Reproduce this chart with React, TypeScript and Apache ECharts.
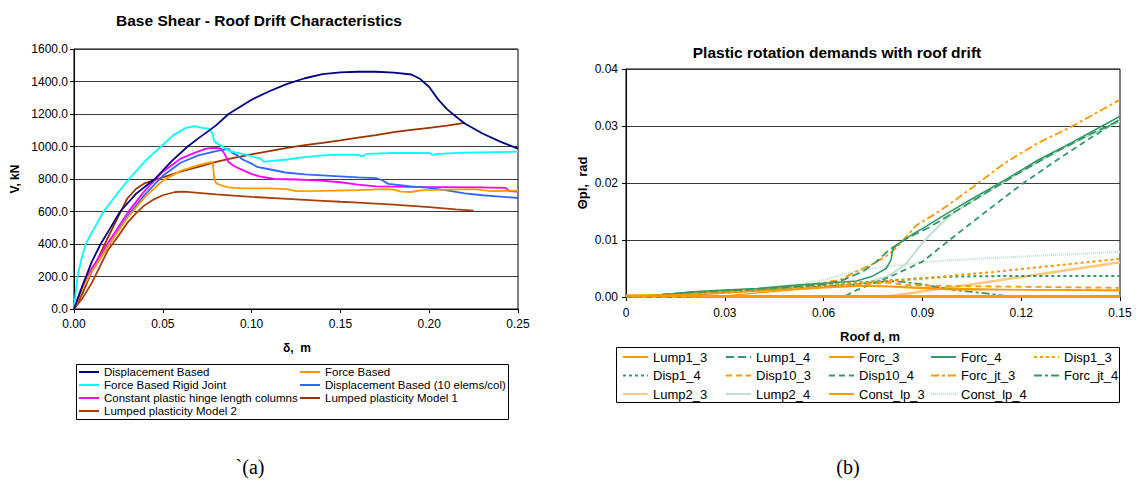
import React, { useEffect, useRef } from "react";
import * as echarts from "echarts";

const FONT = '"Liberation Sans", Arial, sans-serif';

// ---------- Chart (a): Base shear - roof drift ----------
const xTicksA = [0, 0.05, 0.1, 0.15, 0.2, 0.25];
const dispBased: [number, number][] = [
  [0, 0], [0.005, 150], [0.01, 290], [0.015, 400], [0.02, 490], [0.026, 600], [0.035, 710],
  [0.0455, 800], [0.055, 910], [0.064, 1000], [0.07, 1050], [0.08, 1130], [0.087, 1200],
  [0.1, 1288], [0.11, 1340], [0.12, 1385], [0.13, 1420], [0.14, 1445], [0.15, 1456],
  [0.16, 1460], [0.17, 1460], [0.18, 1455], [0.19, 1443], [0.195, 1415], [0.2, 1366],
  [0.205, 1290], [0.21, 1230], [0.215, 1185], [0.22, 1142], [0.23, 1080], [0.24, 1030], [0.25, 987],
];
const forceBased: [number, number][] = [
  [0, 0], [0.005, 130], [0.01, 230], [0.02, 400], [0.03, 560], [0.04, 690], [0.05, 790],
  [0.06, 850], [0.07, 885], [0.078, 905], [0.0785, 860], [0.079, 800], [0.08, 775],
  [0.083, 760], [0.087, 748], [0.095, 742], [0.11, 742], [0.12, 738], [0.125, 725],
  [0.14, 727], [0.16, 732], [0.175, 738], [0.18, 735], [0.184, 722], [0.19, 720],
  [0.195, 730], [0.21, 735], [0.225, 738], [0.235, 725], [0.25, 728],
];
const forceRigid: [number, number][] = [
  [0, 0], [0.001, 110], [0.002, 200], [0.004, 300], [0.0066, 400], [0.01, 470], [0.0167, 600],
  [0.024, 705], [0.031, 800], [0.04, 910], [0.049, 1000], [0.056, 1070], [0.063, 1115],
  [0.068, 1125], [0.072, 1115], [0.076, 1110], [0.078, 1080], [0.079, 1030], [0.082, 1010],
  [0.088, 970], [0.095, 955], [0.1, 940], [0.105, 925], [0.107, 905], [0.11, 910], [0.12, 920],
  [0.13, 935], [0.14, 945], [0.15, 950], [0.16, 948], [0.162, 940], [0.165, 955], [0.18, 960],
  [0.2, 960], [0.202, 948], [0.205, 955], [0.22, 962], [0.25, 968],
];
const disp10: [number, number][] = [
  [0, 0], [0.005, 130], [0.01, 230], [0.02, 400], [0.03, 570], [0.04, 705], [0.05, 820],
  [0.06, 900], [0.07, 945], [0.08, 972], [0.087, 985], [0.089, 960], [0.092, 945],
  [0.095, 920], [0.1, 895], [0.103, 875], [0.11, 860], [0.119, 840], [0.13, 828],
  [0.147, 818], [0.16, 810], [0.17, 805], [0.173, 795], [0.177, 770], [0.19, 755],
  [0.2, 745], [0.21, 730], [0.22, 712], [0.23, 700], [0.24, 692], [0.25, 683],
];
const constLp: [number, number][] = [
  [0, 0], [0.005, 150], [0.01, 250], [0.02, 420], [0.03, 590], [0.04, 730], [0.05, 845],
  [0.06, 925], [0.07, 970], [0.075, 988], [0.08, 992], [0.083, 985], [0.085, 950],
  [0.087, 905], [0.09, 880], [0.095, 855], [0.1, 830], [0.105, 815], [0.113, 800],
  [0.125, 797], [0.139, 790], [0.15, 780], [0.16, 765], [0.17, 755], [0.19, 752],
  [0.21, 750], [0.23, 748], [0.243, 745], [0.245, 725], [0.25, 722],
];
const lumped1: [number, number][] = [
  [0, 0], [0.005, 100], [0.01, 230], [0.02, 460], [0.025, 570], [0.03, 680], [0.035, 740],
  [0.04, 775], [0.05, 810], [0.06, 845], [0.07, 875], [0.08, 905], [0.09, 930], [0.1, 952],
  [0.11, 972], [0.12, 992], [0.13, 1008], [0.14, 1022], [0.15, 1038], [0.16, 1055],
  [0.17, 1070], [0.18, 1088], [0.19, 1102], [0.2, 1115], [0.21, 1128], [0.22, 1145],
];
const lumped2: [number, number][] = [
  [0, 0], [0.005, 70], [0.01, 160], [0.019, 360], [0.025, 450], [0.03, 530], [0.035, 590],
  [0.039, 632], [0.045, 675], [0.05, 700], [0.057, 720], [0.062, 722], [0.07, 715],
  [0.08, 706], [0.09, 698], [0.1, 690], [0.12, 678], [0.14, 666], [0.15, 660], [0.16, 655],
  [0.18, 642], [0.2, 627], [0.215, 613], [0.225, 605],
];

// ---------- Chart (b): plastic rotation demands ----------
const lump1_3: [number, number][] = [
  [0, 0.0002], [0.012, 0.0002], [0.03, 0.0001], [0.06, 0.0001], [0.1, 0.0001], [0.15, 0.0001],
];
const lump1_4: [number, number][] = [
  [0, 0], [0.02, 0.0008], [0.04, 0.0014], [0.06, 0.0022], [0.066, 0.003], [0.072, 0.0045],
  [0.076, 0.0062], [0.08, 0.0083], [0.085, 0.0102], [0.092, 0.0122], [0.1, 0.015],
  [0.11, 0.0185], [0.12, 0.022], [0.13, 0.0253], [0.14, 0.0283], [0.15, 0.031],
];
const forc_3: [number, number][] = [
  [0, 0], [0.02, 0.0004], [0.04, 0.001], [0.06, 0.0017], [0.07, 0.002], [0.08, 0.0018],
  [0.09, 0.0015], [0.1, 0.0013], [0.15, 0.0012],
];
const forc_4: [number, number][] = [
  [0, 0], [0.01, 0.0003], [0.02, 0.0009], [0.03, 0.0012], [0.04, 0.0015], [0.05, 0.002],
  [0.06, 0.0024], [0.07, 0.0028], [0.075, 0.0037], [0.079, 0.005], [0.0805, 0.0065],
  [0.081, 0.0085], [0.083, 0.0095], [0.087, 0.011], [0.09, 0.012], [0.097, 0.0145],
  [0.105, 0.0172], [0.115, 0.0205], [0.125, 0.024], [0.135, 0.027], [0.15, 0.0317],
];
const disp1_3: [number, number][] = [
  [0, 0], [0.03, 0.001], [0.05, 0.0018], [0.07, 0.0025], [0.08, 0.0028], [0.09, 0.0032],
  [0.1, 0.0038], [0.11, 0.0043], [0.12, 0.0049], [0.13, 0.0055], [0.14, 0.0061], [0.15, 0.0067],
];
const disp1_4: [number, number][] = [
  [0, 0], [0.03, 0.0008], [0.05, 0.0017], [0.07, 0.0025], [0.08, 0.0029], [0.09, 0.0033],
  [0.1, 0.0036], [0.12, 0.0037], [0.15, 0.0037],
];
const disp10_3: [number, number][] = [
  [0, 0], [0.03, 0.0008], [0.05, 0.0015], [0.07, 0.0022], [0.08, 0.0025], [0.085, 0.0021],
  [0.1, 0.0019], [0.12, 0.0018], [0.15, 0.0016],
];
const disp10_4: [number, number][] = [
  [0, 0], [0.066, 0], [0.07, 0.0012], [0.08, 0.0035], [0.09, 0.0062], [0.095, 0.0085],
  [0.1, 0.0108], [0.11, 0.0153], [0.12, 0.0197], [0.13, 0.0237], [0.14, 0.0275], [0.15, 0.0312],
];
const forcJt_3: [number, number][] = [
  [0, 0], [0.02, 0.0006], [0.04, 0.0013], [0.06, 0.0025], [0.065, 0.003], [0.07, 0.0045],
  [0.075, 0.0058], [0.08, 0.0075], [0.084, 0.0098], [0.088, 0.0125], [0.095, 0.015],
  [0.1, 0.017], [0.107, 0.02], [0.115, 0.0235], [0.125, 0.027], [0.135, 0.0298], [0.15, 0.0346],
];
const forcJt_4: [number, number][] = [
  [0, 0], [0.03, 0.0008], [0.05, 0.0015], [0.07, 0.0022], [0.08, 0.0028], [0.085, 0.0026],
  [0.09, 0.0022], [0.1, 0.0012], [0.11, 0.0006], [0.115, 0.0002], [0.15, 0.0001],
];
const lump2_3: [number, number][] = [
  [0, 0], [0.078, 0], [0.1, 0.0018], [0.12, 0.0035], [0.15, 0.0061],
];
const lump2_4: [number, number][] = [
  [0, 0], [0.04, 0.0012], [0.06, 0.002], [0.07, 0.0022], [0.075, 0.0028], [0.08, 0.0038],
  [0.085, 0.0058], [0.09, 0.0095], [0.095, 0.0125], [0.1, 0.015], [0.11, 0.0185],
  [0.12, 0.022], [0.13, 0.0252], [0.14, 0.0282], [0.15, 0.0308],
];
const constLp_3: [number, number][] = [
  [0, 0], [0.03, 0.0002], [0.05, 0.0012], [0.06, 0.0016], [0.075, 0.002], [0.08, 0.0019],
  [0.09, 0.0017], [0.1, 0.0015], [0.12, 0.0013], [0.15, 0.0011],
];
const constLp_4: [number, number][] = [
  [0, 0], [0.007, 0], [0.02, 0.0004], [0.03, 0.0008], [0.04, 0.0013], [0.05, 0.002],
  [0.06, 0.003], [0.07, 0.0045], [0.075, 0.005], [0.08, 0.0054], [0.09, 0.0061],
  [0.1, 0.0065], [0.12, 0.0071], [0.15, 0.0079],
];

const ORANGE = "#FF9900";
const GREEN = "#339966";
const LORANGE = "#FFC87A";
const LGREEN = "#BFE0CC";

function lineA(name: string, data: [number, number][], color: string) {
  return {
    type: "line", name, data, xAxisIndex: 0, yAxisIndex: 0, symbol: "none", showSymbol: false,
    lineStyle: { color, width: 1.8 }, itemStyle: { color },
  };
}
function lineB(name: string, data: [number, number][], color: string, width: number, type: any) {
  return {
    type: "line", name, data, xAxisIndex: 1, yAxisIndex: 1, symbol: "none", showSymbol: false,
    lineStyle: { color, width, type }, itemStyle: { color },
  };
}

const axisCommon = {
  axisLine: { show: true, lineStyle: { color: "#000", width: 1 } },
  axisTick: { show: true, inside: false, length: 4, lineStyle: { color: "#000" } },
  splitLine: { show: false },
  axisLabel: { color: "#000", fontSize: 12, fontFamily: FONT },
};

export default function App() {
  const ref = useRef<HTMLDivElement>(null);
  useEffect(() => {
    const chart = echarts.init(ref.current!, null, { renderer: "svg" });
    const legendText = (size: number, lh: number) => ({ fontSize: size, fontFamily: FONT, color: "#000", lineHeight: lh });
    const legA = (left: number, data: string[]) => ({
      orient: "vertical", left, top: 365.5, padding: 0, itemGap: 0, itemWidth: 20, itemHeight: 10,
      selectedMode: false, data, textStyle: legendText(11.5, 13), itemStyle: { opacity: 0 },
    });
    const legB = (left: number, data: string[]) => ({
      orient: "vertical", left, top: 349.5, padding: 0, itemGap: 3.5, itemWidth: 25, itemHeight: 12,
      selectedMode: false, data, textStyle: legendText(13, 15), itemStyle: { opacity: 0 },
    });
    chart.setOption({
      animation: false,
      backgroundColor: "#fff",
      title: [
        { text: "Base Shear - Roof Drift Characteristics", left: 254, top: 7, textAlign: "center",
          textStyle: { fontSize: 15.5, fontWeight: "bold", fontFamily: FONT, color: "#000" } },
        { text: "Plastic rotation demands with roof drift", left: 832, top: 39, textAlign: "center",
          textStyle: { fontSize: 15.5, fontWeight: "bold", fontFamily: FONT, color: "#000" } },
      ],
      grid: [
        { left: 74, top: 49, width: 444, height: 260, show: true, borderColor: "#000", borderWidth: 1, containLabel: false },
        { left: 626, top: 69, width: 494, height: 228, show: true, borderColor: "#000", borderWidth: 1, containLabel: false },
      ],
      xAxis: [
        { type: "value", gridIndex: 0, min: xTicksA[0], max: xTicksA[xTicksA.length - 1], interval: 0.05,
          ...axisCommon, axisLabel: { ...axisCommon.axisLabel, margin: 9, formatter: (v: number) => v.toFixed(2) } },
        { type: "value", gridIndex: 1, min: 0, max: 0.15, interval: 0.03,
          ...axisCommon, axisLabel: { ...axisCommon.axisLabel, margin: 10, formatter: (v: number) => (v === 0 ? "0" : v.toFixed(2)) } },
      ],
      yAxis: [
        { type: "value", gridIndex: 0, min: 0, max: 1600, interval: 200,
          ...axisCommon, splitLine: { show: true, lineStyle: { color: "#3a3a3a", width: 1 } },
          axisLabel: { ...axisCommon.axisLabel, margin: 6, formatter: (v: number) => v.toFixed(1) } },
        { type: "value", gridIndex: 1, min: 0, max: 0.04, interval: 0.01,
          ...axisCommon, splitLine: { show: true, lineStyle: { color: "#3a3a3a", width: 1 } },
          axisLabel: { ...axisCommon.axisLabel, margin: 8, formatter: (v: number) => v.toFixed(2) } },
      ],
      legend: [
        legA(78, ["Displacement Based", "Force Based Rigid Joint", "Constant plastic hinge length columns", "Lumped plasticity Model 2"]),
        legA(299, ["Force Based", "Displacement Based (10 elems/col)", "Lumped plasticity Model 1"]),
        legB(622, ["Lump1_3", "Disp1_4", "Lump2_3"]),
        legB(725, ["Lump1_4", "Disp10_3", "Lump2_4"]),
        legB(828, ["Forc_3", "Disp10_4", "Const_lp_3"]),
        legB(930, ["Forc_4", "Forc_jt_3", "Const_lp_4"]),
        legB(1033, ["Disp1_3", "Forc_jt_4"]),
      ],
      series: [
        lineA("Lumped plasticity Model 2", lumped2, "#A8400C"),
        lineA("Lumped plasticity Model 1", lumped1, "#993300"),
        lineA("Constant plastic hinge length columns", constLp, "#FF00FF"),
        lineA("Displacement Based (10 elems/col)", disp10, "#3366FF"),
        lineA("Force Based Rigid Joint", forceRigid, "#00FFFF"),
        lineA("Force Based", forceBased, ORANGE),
        lineA("Displacement Based", dispBased, "#000080"),

        lineB("Const_lp_4", constLp_4, LGREEN, 2, [1, 1]),
        lineB("Lump2_4", lump2_4, LGREEN, 2, "solid"),
        lineB("Lump2_3", lump2_3, LORANGE, 2.5, "solid"),
        lineB("Const_lp_3", constLp_3, ORANGE, 1.3, "solid"),
        lineB("Forc_jt_4", forcJt_4, GREEN, 1.8, [8, 3, 3, 3]),
        lineB("Forc_jt_3", forcJt_3, ORANGE, 1.8, [8, 3, 3, 3]),
        lineB("Disp10_4", disp10_4, GREEN, 1.8, [6, 4]),
        lineB("Disp10_3", disp10_3, ORANGE, 1.8, [6, 4]),
        lineB("Disp1_4", disp1_4, GREEN, 2, [3, 3]),
        lineB("Disp1_3", disp1_3, ORANGE, 2, [3, 3]),
        lineB("Forc_4", forc_4, GREEN, 1.6, "solid"),
        lineB("Forc_3", forc_3, ORANGE, 1.6, "solid"),
        lineB("Lump1_4", lump1_4, GREEN, 1.8, [8, 4]),
        lineB("Lump1_3", lump1_3, ORANGE, 3, "solid"),
      ],
      graphic: [
        { type: "text", x: 15, y: 179, rotation: Math.PI / 2,
          style: { text: "V, kN", fontSize: 12, fontWeight: "bold", fontFamily: FONT, fill: "#000", align: "center", verticalAlign: "middle" } },
        { type: "text", x: 297, y: 348,
          style: { text: "δ,  m", fontSize: 12, fontWeight: "bold", fontFamily: FONT, fill: "#000", align: "center", verticalAlign: "middle" } },
        { type: "text", x: 582, y: 183, rotation: Math.PI / 2,
          style: { text: "Θpl,  rad", fontSize: 13, fontWeight: "bold", fontFamily: FONT, fill: "#000", align: "center", verticalAlign: "middle" } },
        { type: "text", x: 870, y: 336,
          style: { text: "Roof d, m", fontSize: 13, fontWeight: "bold", fontFamily: FONT, fill: "#000", align: "center", verticalAlign: "middle" } },
        { type: "rect", shape: { x: 76.5, y: 364.5, width: 432, height: 55 }, style: { fill: "none", stroke: "#000", lineWidth: 1 }, z: -1 },
        { type: "rect", shape: { x: 616.5, y: 347.5, width: 503, height: 55 }, style: { fill: "none", stroke: "#000", lineWidth: 1 }, z: -1 },
        { type: "text", x: 250, y: 467,
          style: { text: "`(a)", fontSize: 20, fontFamily: '"Liberation Serif", serif', fill: "#000", align: "center", verticalAlign: "middle" } },
        { type: "text", x: 848, y: 467,
          style: { text: "(b)", fontSize: 20, fontFamily: '"Liberation Serif", serif', fill: "#000", align: "center", verticalAlign: "middle" } },
      ],
    });
    return () => chart.dispose();
  }, []);
  return <div ref={ref} style={{ position: "absolute", left: 0, top: 0, width: 1137, height: 486, background: "#fff" }} />;
}
